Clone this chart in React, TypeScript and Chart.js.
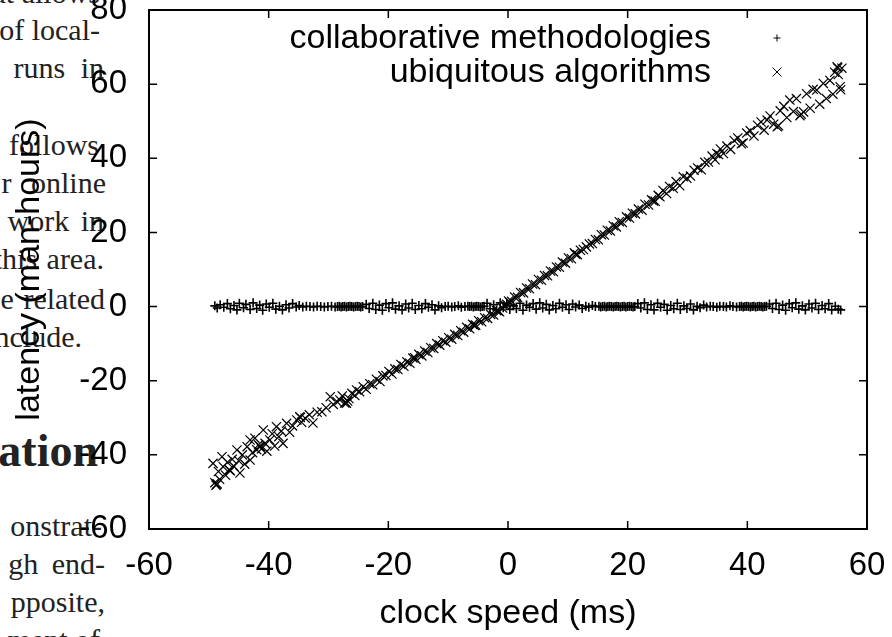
import React, { useEffect, useRef } from 'react';
import { Chart, registerables } from 'chart.js';

Chart.register(...registerables);

// ---------------- chart data ----------------
const seriesLabels = ['collaborative methodologies', 'ubiquitous algorithms'];
const xAxisTitle = 'clock speed (ms)';
const yAxisTitle = 'latency (man-hours)';
const xRange = [-60, 60];
const yRange = [-60, 80];
const tickStep = 20;

const collaborativePoints: [number, number][] = [
  [-49.0, 0.2], [-48.6, -0.4], [-48.1, 0.5], [-47.5, -0.2], [-46.9, 0.8], [-46.4, -0.6], [-45.8, 0.3],
  [-45.3, -0.9], [-44.9, 0.9], [-44.2, -0.3], [-43.8, 0.6], [-43.1, -0.8], [-42.6, 1.0], [-42.0, -0.5],
  [-41.5, 0.4], [-41.0, -1.0], [-40.4, 0.7], [-39.9, -0.2], [-39.3, 0.9], [-38.8, -0.7], [-38.2, 0.1],
  [-37.7, -0.9], [-37.1, 0.5], [-36.6, -0.4], [-36.0, 0.8], [-35.4, -0.1], [-34.9, 0.3],
  [-34.3, -0.1], [-33.7, 0.1], [-33.1, 0.0], [-32.5, -0.1], [-31.9, 0.1], [-31.3, 0.0], [-30.7, -0.1],
  [-30.1, 0.0], [-29.5, 0.1], [-28.9, -0.1],
  [-28.5, 0.0], [-28.2, 0.1], [-27.9, -0.1], [-27.6, 0.0], [-27.3, 0.1], [-27.0, -0.1], [-26.7, 0.0],
  [-26.4, 0.1], [-26.1, 0.0], [-25.8, -0.1], [-25.5, 0.0], [-25.2, 0.1], [-24.9, 0.0], [-24.6, -0.1], [-24.3, 0.0],
  [-23.7, 0.6], [-23.2, -0.5], [-22.6, 0.9], [-22.1, -0.8], [-21.5, 0.4], [-21.0, -1.0], [-20.4, 0.8],
  [-19.9, -0.3], [-19.3, 1.0], [-18.8, -0.7], [-18.2, 0.2], [-17.7, -0.9], [-17.1, 0.7], [-16.6, -0.4],
  [-16.0, 0.9], [-15.5, -0.8], [-14.9, 0.3], [-14.4, -0.6], [-13.8, 0.8], [-13.3, -0.2], [-12.7, 0.5],
  [-12.2, -0.9], [-11.6, 0.2], [-11.1, -0.3], [-10.5, 0.0], [-10.0, 0.1], [-9.4, -0.1], [-8.9, 0.0],
  [-8.3, 0.2], [-7.8, -0.2], [-7.2, 0.0], [-6.7, 0.1],
  [-6.4, 0.0], [-6.1, 0.1], [-5.8, -0.1], [-5.5, 0.0], [-5.2, 0.1], [-4.9, 0.0], [-4.6, -0.1], [-4.3, 0.0], [-4.0, 0.1],
  [-3.5, 0.9], [-3.0, -0.6], [-2.4, 0.5], [-1.9, -0.9], [-1.3, 1.0], [-0.8, -0.3], [-0.2, 0.7], [0.3, -0.8],
  [0.9, 0.2], [1.4, -0.5], [2.0, 0.9], [2.5, -1.0], [3.1, 0.4], [3.6, -0.2], [4.2, 0.8], [4.7, -0.7],
  [5.3, 1.0], [5.8, -0.4], [6.4, 0.6], [6.9, -0.9], [7.5, 0.3], [8.0, -0.6], [8.6, 0.9], [9.1, -0.2],
  [9.7, 0.5], [10.2, -0.8], [10.8, 0.7], [11.3, -0.1], [11.9, 0.4], [12.4, -0.5], [13.0, 0.1], [13.5, -0.2],
  [14.1, 0.3], [14.6, 0.0],
  [15.2, 0.1], [15.5, -0.1], [15.8, 0.0], [16.1, 0.1], [16.4, -0.1], [16.7, 0.0], [17.0, 0.1], [17.3, 0.0],
  [17.6, -0.1], [17.9, 0.0], [18.2, 0.1], [18.5, 0.0], [18.8, -0.1], [19.1, 0.0], [19.4, 0.1], [19.7, -0.1],
  [20.0, 0.0], [20.3, 0.1], [20.6, 0.0], [20.9, -0.1], [21.2, 0.0],
  [21.7, 0.8], [22.2, -0.4], [22.8, 1.0], [23.3, -0.8], [23.9, 0.5], [24.4, -0.9], [25.0, 0.9], [25.5, -0.2],
  [26.1, 0.6], [26.6, -1.0], [27.2, 0.3], [27.7, -0.6], [28.3, 0.9], [28.8, -0.8], [29.4, 0.2], [29.9, -0.5],
  [30.5, 0.7], [31.0, -0.9], [31.6, 0.1], [32.1, -0.3], [32.7, 0.4], [33.2, -0.1], [33.8, 0.1], [34.3, 0.0],
  [34.9, -0.2], [35.4, 0.1], [36.0, 0.0], [36.5, -0.1], [37.1, 0.2], [37.6, 0.0], [38.2, -0.1],
  [38.7, 0.0], [39.0, 0.1], [39.3, -0.1], [39.6, 0.0], [39.9, 0.1], [40.2, 0.0], [40.5, -0.1], [40.8, 0.0],
  [41.1, 0.1], [41.4, -0.1], [41.7, 0.0], [42.0, 0.1], [42.3, 0.0], [42.6, -0.1], [42.9, 0.0], [43.2, 0.1],
  [43.7, 0.7], [44.2, -0.5], [44.8, 0.9], [45.3, -0.8], [45.9, 0.4], [46.4, -1.0], [47.0, 0.8], [47.5, -0.3],
  [48.1, 1.0], [48.6, -0.7], [49.2, 0.2], [49.7, -0.9], [50.3, 0.7], [50.8, -0.4], [51.4, 0.9], [51.9, -0.8],
  [52.5, 0.3], [53.0, -0.6], [53.6, 0.8], [54.1, -0.9], [54.7, 0.1], [55.2, -0.7], [55.6, -0.9],
];

const ubiquitousPoints: [number, number][] = [
  [-49.3, -42.3], [-49.0, -47.5], [-48.8, -48.2], [-48.7, -48.0], [-48.6, -47.8], [-48.4, -44.5], [-48.2, -46.6],
  [-47.8, -40.5], [-47.6, -43.2], [-47.2, -45.5], [-46.9, -42.0], [-46.6, -44.0], [-46.5, -44.2], [-46.4, -44.3],
  [-46.1, -41.2], [-45.8, -43.1], [-45.3, -38.7], [-45.0, -41.6], [-44.8, -44.9], [-44.4, -40.0], [-44.0, -42.5],
  [-43.6, -37.8], [-43.1, -36.0], [-43.1, -41.4], [-42.7, -39.4], [-42.3, -35.5], [-42.0, -38.6], [-41.7, -37.3],
  [-41.5, -37.6], [-41.4, -37.8], [-41.2, -38.4], [-40.9, -33.3], [-40.6, -36.9], [-40.3, -39.0], [-39.8, -36.0],
  [-39.4, -34.3], [-39.0, -37.6], [-38.7, -32.4], [-38.3, -35.1], [-37.9, -33.6], [-37.6, -36.9], [-37.0, -31.5],
  [-36.5, -33.9], [-36.0, -32.2],
  [-35.3, -30.6], [-34.8, -29.7], [-34.7, -29.9], [-34.5, -31.2], [-33.9, -30.1], [-33.2, -29.2], [-32.6, -31.4],
  [-31.9, -28.5], [-31.1, -28.4], [-30.4, -27.3], [-29.7, -24.3], [-29.2, -26.4], [-28.6, -25.6], [-28.1, -25.2],
  [-27.7, -24.1], [-27.3, -26.0], [-27.1, -25.9], [-27.0, -26.1], [-26.8, -25.5], [-26.6, -24.8], [-26.1, -23.4],
  [-25.6, -24.0], [-25.3, -22.5], [-24.8, -23.0], [-24.2, -21.6], [-23.7, -22.3], [-23.1, -20.8], [-22.6, -21.1],
  [-22.0, -19.6], [-21.4, -20.2], [-20.9, -18.7],
  [-20.4, -18.6], [-19.9, -17.5], [-19.4, -18.2], [-18.9, -16.8], [-18.4, -17.0], [-17.9, -15.6], [-17.4, -16.1],
  [-16.9, -14.9], [-16.4, -15.3], [-15.9, -13.9], [-15.6, -13.8], [-15.4, -14.2], [-14.9, -12.9], [-14.4, -13.3],
  [-13.9, -12.0], [-13.4, -12.4], [-12.9, -11.1], [-12.4, -11.3], [-11.9, -10.0], [-11.4, -10.4], [-10.9, -9.2],
  [-10.4, -9.6], [-9.9, -8.4], [-9.4, -8.8], [-8.9, -7.5], [-8.4, -7.8], [-7.9, -6.5], [-7.4, -6.9], [-6.9, -5.6],
  [-6.4, -6.0], [-5.9, -4.8], [-5.6, -5.1], [-5.4, -5.0], [-4.9, -3.8], [-4.4, -4.1], [-3.9, -3.0], [-3.4, -3.2],
  [-2.9, -2.1], [-2.4, -2.3], [-1.9, -1.1], [-1.6, -1.2], [-1.4, -1.4], [-0.9, -0.4],
  [-0.4, 0.3], [-0.2, 0.6], [0.1, 1.5], [0.3, 1.1], [0.6, 1.4], [1.1, 2.6], [1.6, 2.5], [2.1, 3.8], [2.6, 3.7],
  [3.1, 5.0], [3.6, 4.8], [4.1, 6.1], [4.6, 5.9], [5.1, 7.3], [5.6, 7.1], [6.1, 8.4], [6.6, 8.3], [7.1, 9.6],
  [7.6, 9.4], [8.1, 10.7], [8.6, 10.6], [9.1, 12.0], [9.6, 11.7], [10.1, 13.1], [10.6, 12.9], [11.1, 14.5],
  [11.3, 14.1], [11.6, 14.0], [12.1, 15.2], [12.6, 15.4], [13.1, 16.1], [13.6, 16.9], [14.1, 17.0], [14.6, 18.1],
  [15.1, 18.0], [15.6, 19.4], [16.1, 19.3], [16.6, 20.6], [17.1, 20.4], [17.6, 21.8], [18.1, 21.5], [18.6, 22.9],
  [19.1, 22.7], [19.8, 24.2], [20.3, 23.9], [20.8, 25.2], [21.3, 25.0], [21.8, 26.3], [22.4, 26.0], [22.9, 27.6],
  [23.5, 27.4], [24.0, 28.8], [24.3, 28.5], [24.6, 28.4], [25.1, 30.0], [25.4, 29.6], [25.9, 31.3], [26.5, 30.5],
  [27.0, 32.4], [27.6, 31.9], [28.1, 33.7], [28.7, 32.6], [29.3, 35.0], [29.9, 34.6], [30.5, 35.2], [31.1, 36.8],
  [31.7, 37.4], [32.3, 36.9], [32.9, 38.9], [33.5, 39.0], [34.1, 40.6], [34.6, 39.6], [34.9, 41.3], [35.2, 41.0],
  [35.5, 42.5], [36.0, 41.3], [36.6, 43.3], [37.2, 42.4], [37.8, 44.8], [38.4, 45.5], [39.0, 43.9], [39.3, 44.1],
  [39.9, 46.8], [40.5, 47.4], [41.1, 46.0], [41.7, 48.9], [42.3, 49.8], [42.8, 47.6], [43.3, 50.3], [43.8, 51.4],
  [44.4, 49.2], [45.0, 48.5], [45.2, 48.8], [45.5, 52.8], [46.1, 54.0], [46.6, 51.0], [47.1, 55.7], [47.7, 52.6],
  [48.2, 56.1], [48.8, 51.5], [49.0, 51.9], [49.4, 52.5], [49.9, 57.4], [50.5, 53.5], [51.0, 58.6], [51.6, 58.4],
  [52.1, 54.6], [52.7, 60.2], [53.2, 56.1], [53.8, 61.0], [54.3, 57.3], [54.6, 63.2], [55.0, 64.7], [55.1, 64.4],
  [55.2, 62.6], [55.5, 59.3], [55.6, 58.5], [55.8, 64.3],
];

// ---------------- surrounding page text (from the paper the figure sits in) ----------------
const paperLines = [
  'that allows', 'of local-', 'runs in', 'follows', 'r online', 'work in', 'this area.',
  'e related', 'include.', 'onstrat-', 'gh end-', 'pposite,', 'ment of',
];
const paperHeading = 'ation';

// layout (positions only)
const paperLineRight = [100, 100, 104, 99, 106, 104, 104, 105, 82, 102, 105, 105, 100];
const paperLineBaseline = [3, 40, 78, 155, 193, 231, 269, 309, 347, 536, 574, 612, 650];
const paperWordSpacing = [0, 0, 8, 0, 12, 4, 2, 2, 0, 0, 6, 0, 0];
const headingRight = 98;
const headingBaseline = 465;

const SANS = '"Liberation Sans", Arial, Helvetica, sans-serif';
const SERIF = '"Liberation Serif", "Times New Roman", serif';

const framePlugin = {
  id: 'gnuplotFrame',
  afterDraw(chart: any) {
    const { ctx, chartArea, scales } = chart;
    const { left, right, top, bottom } = chartArea;
    const xs = scales.x;
    const ys = scales.y;
    ctx.save();
    ctx.strokeStyle = '#000';
    ctx.lineWidth = 2;
    ctx.strokeRect(left, top, right - left, bottom - top);
    ctx.lineWidth = 1.5;
    ctx.beginPath();
    xs.ticks.forEach((t: any) => {
      const p = xs.getPixelForValue(t.value);
      ctx.moveTo(p, bottom);
      ctx.lineTo(p, bottom - 8);
      ctx.moveTo(p, top);
      ctx.lineTo(p, top + 8);
    });
    ys.ticks.forEach((t: any) => {
      const p = ys.getPixelForValue(t.value);
      ctx.moveTo(left, p);
      ctx.lineTo(left + 8, p);
      ctx.moveTo(right, p);
      ctx.lineTo(right - 8, p);
    });
    ctx.stroke();

    // gnuplot-style key: right-aligned text, sample marker to the right
    ctx.font = `34px ${SANS}`;
    ctx.fillStyle = '#000';
    ctx.textAlign = 'right';
    ctx.textBaseline = 'alphabetic';
    ctx.lineWidth = 1;
    chart.data.datasets.forEach((ds: any, i: number) => {
      const baseY = top + 38 + i * 34;
      ctx.fillText(ds.label, right - 156, baseY);
      const mx = right - 90;
      const my = baseY - 10;
      ctx.beginPath();
      if (ds.pointStyle === 'cross') {
        ctx.moveTo(mx - 3.5, my);
        ctx.lineTo(mx + 3.5, my);
        ctx.moveTo(mx, my - 3.5);
        ctx.lineTo(mx, my + 3.5);
      } else {
        ctx.moveTo(mx - 4.5, my - 4.5);
        ctx.lineTo(mx + 4.5, my + 4.5);
        ctx.moveTo(mx - 4.5, my + 4.5);
        ctx.lineTo(mx + 4.5, my - 4.5);
      }
      ctx.stroke();
    });
    ctx.restore();
  },
};

export default function App() {
  const canvasRef = useRef<HTMLCanvasElement | null>(null);

  useEffect(() => {
    if (!canvasRef.current) return;
    const chart = new Chart(canvasRef.current, {
      type: 'scatter',
      data: {
        datasets: [
          {
            label: seriesLabels[0],
            data: collaborativePoints.map(([x, y]) => ({ x, y })),
            pointStyle: 'cross',
            pointRadius: 4.5,
            pointBorderWidth: 1.6,
            pointBorderColor: '#000',
            pointBackgroundColor: '#000',
            showLine: false,
          },
          {
            label: seriesLabels[1],
            data: ubiquitousPoints.map(([x, y]) => ({ x, y })),
            pointStyle: 'crossRot',
            pointRadius: 6.5,
            pointBorderWidth: 1.2,
            pointBorderColor: '#000',
            pointBackgroundColor: '#000',
            showLine: false,
          },
        ],
      },
      options: {
        responsive: false,
        animation: false,
        devicePixelRatio: 1,
        events: [],
        layout: { autoPadding: false, padding: { top: 10, right: 25, left: 0, bottom: 0 } },
        plugins: { legend: { display: false }, tooltip: { enabled: false }, title: { display: false } },
        scales: {
          x: {
            type: 'linear',
            position: 'bottom',
            min: xRange[0],
            max: xRange[1],
            ticks: { stepSize: tickStep, color: '#000', font: { family: SANS, size: 33 }, padding: 17, maxRotation: 0, autoSkip: false },
            grid: { display: false, drawTicks: false },
            border: { display: false },
            title: { display: true, text: xAxisTitle, color: '#000', font: { family: SANS, size: 34 }, padding: { top: 0, bottom: 3 } },
            afterFit: (s: any) => {
              s.height = 108;
              s.paddingLeft = 0;
              s.paddingRight = 0;
            },
          },
          y: {
            type: 'linear',
            position: 'left',
            min: yRange[0],
            max: yRange[1],
            ticks: { stepSize: tickStep, color: '#000', font: { family: SANS, size: 33 }, padding: 22, autoSkip: false },
            grid: { display: false, drawTicks: false },
            border: { display: false },
            title: { display: true, text: yAxisTitle, color: '#000', font: { family: SANS, size: 34 }, padding: { top: 9, bottom: 0 } },
            afterFit: (s: any) => {
              s.width = 149;
              s.paddingTop = 0;
              s.paddingBottom = 0;
            },
          },
        },
      } as any,
      plugins: [framePlugin],
    });
    return () => chart.destroy();
  }, []);

  return (
    <div
      style={{
        position: 'fixed',
        left: 0,
        top: 0,
        width: 892,
        height: 637,
        overflow: 'hidden',
        background: '#fff',
      }}
    >
      {paperLines.map((t, i) => (
        <span
          key={i}
          style={{
            position: 'absolute',
            right: 892 - paperLineRight[i],
            top: paperLineBaseline[i] - 25,
            font: `30px ${SERIF}`,
            lineHeight: '30px',
            wordSpacing: paperWordSpacing[i],
            whiteSpace: 'nowrap',
            color: '#222',
          }}
        >
          {t}
        </span>
      ))}
      <span
        style={{
          position: 'absolute',
          right: 892 - headingRight,
          top: headingBaseline - 37,
          font: `bold 46px ${SERIF}`,
          lineHeight: '46px',
          whiteSpace: 'nowrap',
          color: '#222',
        }}
      >
        {paperHeading}
      </span>
      <canvas
        ref={canvasRef}
        width={892}
        height={637}
        style={{ position: 'absolute', left: 0, top: 0, width: 892, height: 637 }}
      />
    </div>
  );
}
